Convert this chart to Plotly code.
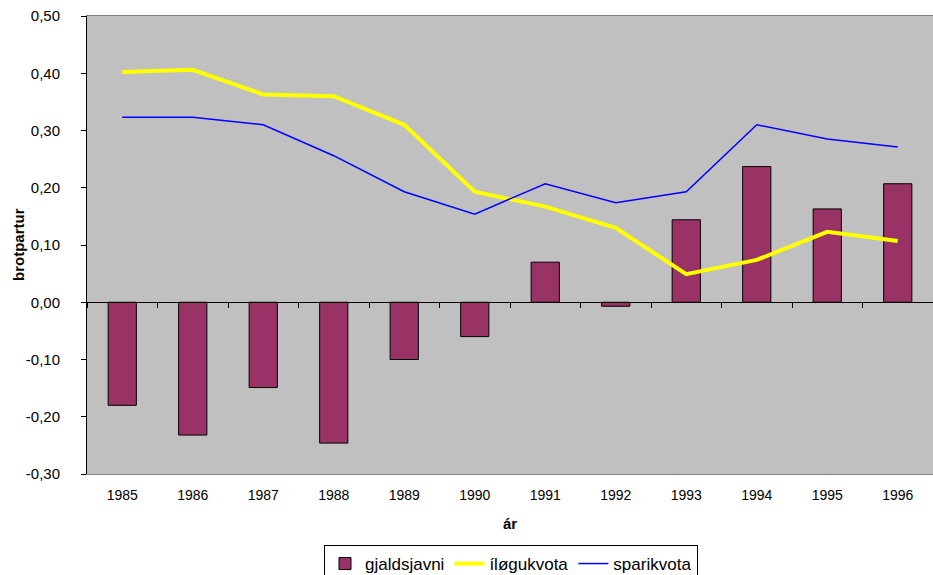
import plotly.graph_objects as go

years = ["1985", "1986", "1987", "1988", "1989", "1990", "1991", "1992", "1993", "1994", "1995", "1996"]
gjaldsjavni = [-0.18, -0.232, -0.149, -0.246, -0.10, -0.06, 0.070, -0.007, 0.144, 0.237, 0.163, 0.207]
ilogukvota = [0.402, 0.406, 0.363, 0.360, 0.310, 0.193, 0.167, 0.130, 0.049, 0.074, 0.123, 0.107]
sparikvota = [0.323, 0.323, 0.310, 0.256, 0.193, 0.154, 0.207, 0.174, 0.193, 0.310, 0.285, 0.271]
ytick_vals = [-0.3, -0.2, -0.1, 0.0, 0.1, 0.2, 0.3, 0.4, 0.5]
ytick_text = ["-0,30", "-0,20", "-0,10", "0,00", "0,10", "0,20", "0,30", "0,40", "0,50"]

FONT = "Liberation Sans, Arial, sans-serif"

fig = go.Figure()
fig.add_trace(go.Bar(
    x=years, y=gjaldsjavni, name="gjaldsjavni",
    marker=dict(color="#993366", line=dict(color="black", width=1)),
))
fig.add_trace(go.Scatter(
    x=years, y=ilogukvota, name="íløgukvota", mode="lines", xaxis="x2",
    line=dict(color="#FFFF00", width=4),
))
fig.add_trace(go.Scatter(
    x=years, y=sparikvota, name="sparikvota", mode="lines", xaxis="x2",
    line=dict(color="#0000FF", width=1.5),
))

ymin, ymax = -0.3, 0.5
zero_pos = (0 - ymin) / (ymax - ymin)

# the captured page is slightly taller than the window and gets squeezed vertically,
# so lay the figure out on a 583px-tall canvas
S = 583 / 575
W, H = 933, 583
TOP, BOT = 16 * S, 472 * S
ML, MR, MT = 87, 0, TOP
ph = BOT - TOP
MB = H - BOT
pw = W - ML - MR

def px_to_paper_y(py):
    return (BOT - py * S) / ph

def px_to_paper_x(px):
    return (px - 87) / pw

fig.update_layout(
    width=W, height=H,
    margin=dict(l=ML, r=MR, t=MT, b=MB),
    paper_bgcolor="white",
    plot_bgcolor="#C0C0C0",
    font=dict(family=FONT, size=14, color="black"),
    bargap=0.6,
    showlegend=True,
    legend=dict(
        orientation="h", x=px_to_paper_x(511), xanchor="center",
        y=px_to_paper_y(543), yanchor="top",
        bordercolor="black", borderwidth=1, bgcolor="white",
        font=dict(family=FONT, size=17),
        traceorder="normal",
    ),
    xaxis=dict(
        type="category", categoryorder="array", categoryarray=years,
        range=[-0.5, 11.5], automargin=False,
        showgrid=False, zeroline=False,
        showline=True, linecolor="#808080", linewidth=1, mirror=True,
        ticks="", tickfont=dict(size=14), ticklabelstandoff=8,
    ),
    xaxis2=dict(
        type="category", categoryorder="array", categoryarray=years,
        range=[-0.5, 11.5], overlaying="x", anchor="free", position=zero_pos,
        automargin=False,
        showgrid=False, zeroline=False,
        showline=True, linecolor="black", linewidth=1,
        ticks="outside", tickson="boundaries", ticklen=5, tickcolor="black",
        showticklabels=False,
    ),
    yaxis=dict(
        range=[ymin, ymax], tickvals=ytick_vals, ticktext=ytick_text,
        automargin=False,
        showgrid=False, zeroline=False,
        showline=True, linecolor="black", linewidth=1,
        ticks="outside", ticklen=5, tickcolor="black",
        tickfont=dict(size=15), ticklabelstandoff=18,
    ),
    annotations=[
        dict(text="<b>brotpartur</b>", xref="paper", yref="paper",
             x=px_to_paper_x(18), y=0.5, xanchor="center", yanchor="middle",
             textangle=-90, showarrow=False, font=dict(size=15)),
        dict(text="<b>ár</b>", xref="paper", yref="paper",
             x=px_to_paper_x(510), y=px_to_paper_y(521), xanchor="center", yanchor="middle",
             showarrow=False, font=dict(size=15)),
    ],
)

post = (
    "document.documentElement.style.margin='0';"
    "document.documentElement.style.padding='0';"
    "document.body.style.margin='0';"
    "document.body.style.padding='0';"
    "document.body.style.overflow='hidden';"
)
fig.write_html("out.html", post_script=post, config={"displayModeBar": False})
